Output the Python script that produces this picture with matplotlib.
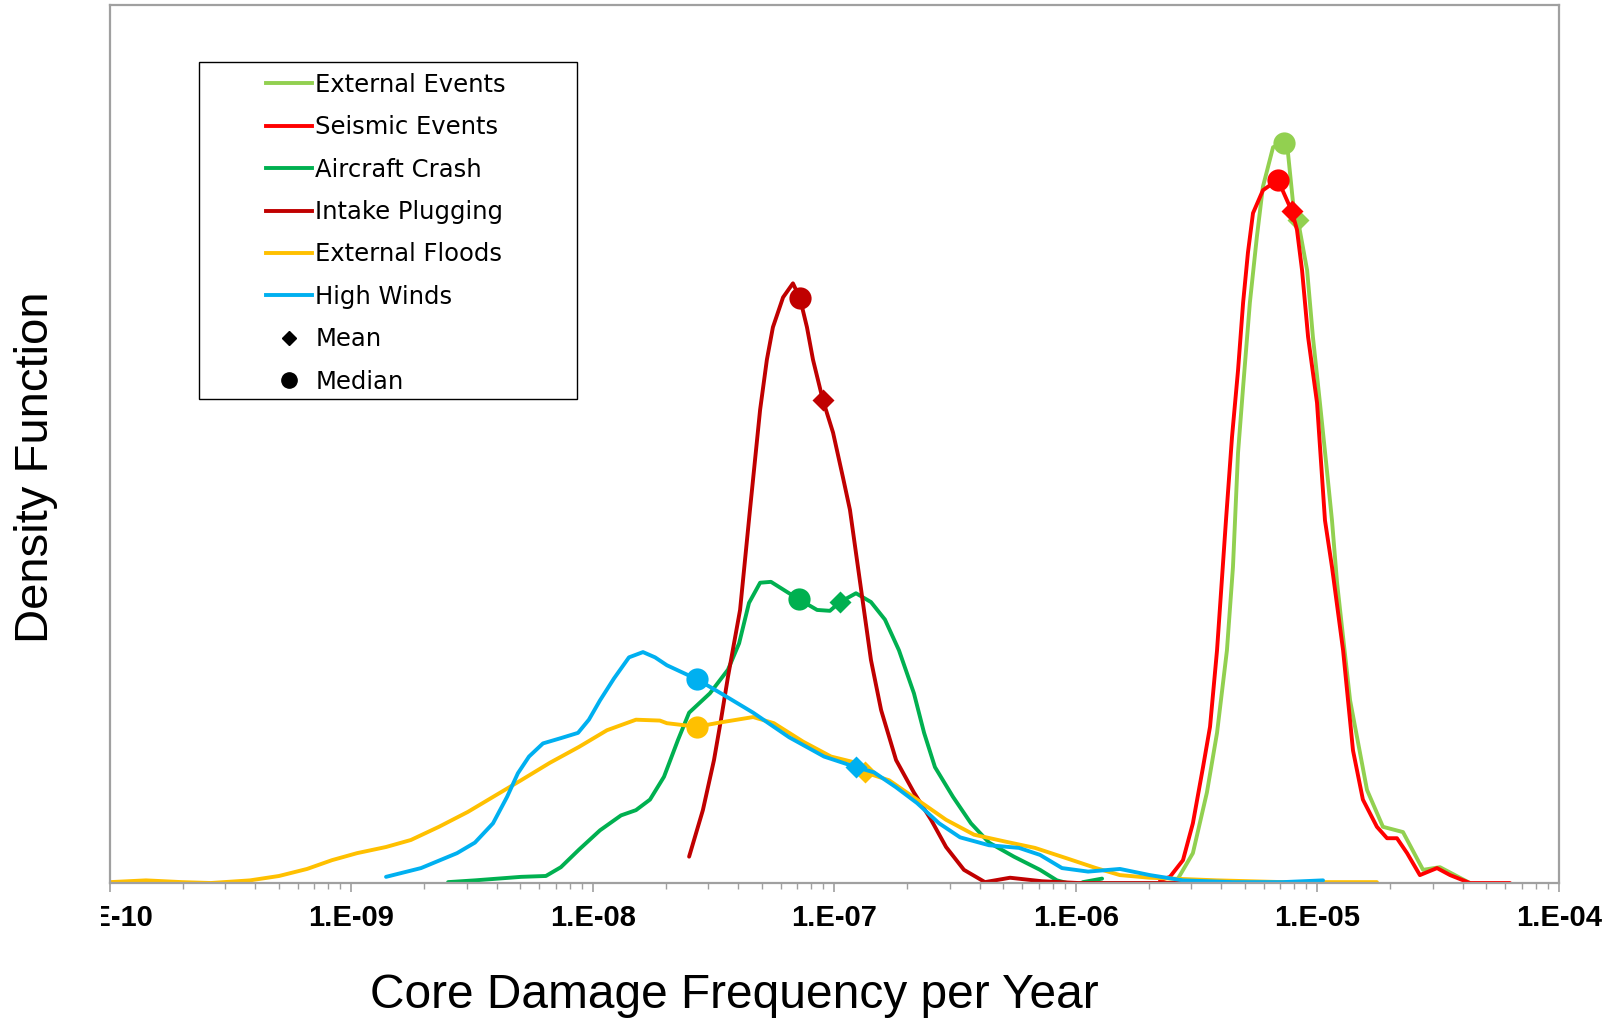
import numpy as np
import matplotlib
matplotlib.use('Agg')
import matplotlib.pyplot as plt
from matplotlib.lines import Line2D
from matplotlib.patches import Rectangle
from matplotlib.ticker import LogLocator, NullFormatter
from matplotlib.transforms import Bbox, TransformedBbox

# x values are log10(core damage frequency per year), y is relative density

ext_events_lx = [-5.582, -5.516, -5.458, -5.416, -5.375, -5.350, -5.329, -5.308, -5.280, -5.251,
                 -5.226, -5.184, -5.139, -5.122, -5.101, -5.081, -5.043, -5.019, -4.990, -4.961,
                 -4.940, -4.919, -4.865, -4.795, -4.729, -4.646, -4.563, -4.493, -4.369]
ext_events_y = [0.003, 0.034, 0.103, 0.171, 0.265, 0.360, 0.490, 0.565, 0.661, 0.736,
                0.793, 0.838, 0.843, 0.831, 0.774, 0.755, 0.698, 0.622, 0.547, 0.470,
                0.413, 0.342, 0.208, 0.106, 0.064, 0.058, 0.015, 0.018, 0.0]

seismic_lx = [-5.652, -5.611, -5.557, -5.516, -5.474, -5.445, -5.416, -5.379, -5.354, -5.329,
              -5.308, -5.288, -5.267, -5.226, -5.164, -5.106, -5.085, -5.064, -5.039, -5.002,
              -4.969, -4.940, -4.894, -4.853, -4.812, -4.754, -4.712, -4.671, -4.629, -4.576,
              -4.505, -4.451, -4.369, -4.203]
seismic_y = [0.003, 0.007, 0.026, 0.068, 0.132, 0.178, 0.265, 0.413, 0.508, 0.584,
             0.661, 0.718, 0.763, 0.789, 0.801, 0.765, 0.744, 0.698, 0.622, 0.547,
             0.413, 0.360, 0.265, 0.151, 0.095, 0.064, 0.051, 0.051, 0.034, 0.009,
             0.017, 0.009, 0.0, 0.0]

aircraft_lx = [-8.600, -8.489, -8.298, -8.195, -8.133, -8.058, -7.971, -7.884, -7.822, -7.764,
               -7.706, -7.648, -7.602, -7.516, -7.441, -7.395, -7.354, -7.308, -7.263, -7.188,
               -7.147, -7.072, -7.019, -6.977, -6.911, -6.849, -6.791, -6.733, -6.671, -6.629,
               -6.584, -6.509, -6.435, -6.360, -6.257, -6.149, -6.079, -6.037, -6.004, -5.971,
               -5.892]
aircraft_y = [0.001, 0.003, 0.007, 0.008, 0.018, 0.038, 0.060, 0.077, 0.083, 0.095,
              0.121, 0.163, 0.194, 0.216, 0.243, 0.273, 0.319, 0.342, 0.343, 0.330,
              0.323, 0.311, 0.310, 0.320, 0.330, 0.320, 0.300, 0.265, 0.216, 0.171,
              0.132, 0.098, 0.068, 0.046, 0.030, 0.015, 0.003, 0.0, -0.004, 0.001,
              0.005]

intake_lx = [-7.602, -7.545, -7.499, -7.470, -7.441, -7.391, -7.350, -7.329, -7.308, -7.280,
             -7.255, -7.213, -7.172, -7.143, -7.114, -7.089, -7.048, -7.006, -6.965, -6.936,
             -6.907, -6.878, -6.849, -6.807, -6.745, -6.671, -6.600, -6.538, -6.464, -6.377,
             -6.273, -6.141, -5.992, -5.487]
intake_y = [0.030, 0.083, 0.140, 0.186, 0.235, 0.311, 0.425, 0.482, 0.539, 0.596,
            0.633, 0.667, 0.683, 0.666, 0.633, 0.596, 0.550, 0.513, 0.462, 0.425,
            0.368, 0.311, 0.254, 0.197, 0.140, 0.103, 0.072, 0.041, 0.015, 0.001,
            0.006, 0.002, 0.0, 0.0]

floods_lx = [-10.0, -9.851, -9.702, -9.582, -9.420, -9.300, -9.184, -9.081, -8.977, -8.857,
             -8.754, -8.638, -8.518, -8.402, -8.298, -8.178, -8.058, -7.942, -7.822, -7.723,
             -7.694, -7.569, -7.470, -7.337, -7.251, -7.130, -7.014, -6.911, -6.874, -6.774,
             -6.658, -6.538, -6.422, -6.290, -6.170, -6.037, -5.917, -5.818, -5.694, -5.416,
             -5.143, -4.754]
floods_y = [0.001, 0.003, 0.001, 0.0, 0.003, 0.008, 0.016, 0.026, 0.034, 0.041,
            0.049, 0.064, 0.081, 0.100, 0.117, 0.137, 0.155, 0.174, 0.186, 0.185,
            0.182, 0.178, 0.183, 0.189, 0.182, 0.161, 0.144, 0.137, 0.126, 0.117,
            0.095, 0.072, 0.055, 0.047, 0.040, 0.028, 0.017, 0.009, 0.006, 0.003,
            0.001, 0.001]

winds_lx = [-8.857, -8.712, -8.563, -8.489, -8.414, -8.356, -8.311, -8.265, -8.207, -8.133,
            -8.062, -8.017, -7.971, -7.913, -7.851, -7.793, -7.743, -7.694, -7.569, -7.470,
            -7.337, -7.188, -7.043, -6.911, -6.836, -6.745, -6.658, -6.567, -6.480, -6.360,
            -6.236, -6.149, -6.058, -5.950, -5.818, -5.694, -5.557, -5.350, -5.143, -4.977]
winds_y = [0.007, 0.017, 0.034, 0.046, 0.068, 0.098, 0.125, 0.144, 0.159, 0.165,
           0.171, 0.186, 0.208, 0.233, 0.257, 0.263, 0.257, 0.248, 0.232, 0.216,
           0.194, 0.166, 0.144, 0.132, 0.126, 0.109, 0.091, 0.068, 0.052, 0.043,
           0.040, 0.032, 0.017, 0.013, 0.016, 0.009, 0.003, 0.001, 0.001, 0.003]

names = ['External Events', 'Seismic Events', 'Aircraft Crash', 'Intake Plugging',
         'External Floods', 'High Winds']
colors = ['#92D050', '#FF0000', '#00B050', '#C00000', '#FFC000', '#00B0F0']

# (log10 x, density) of the median and mean markers
median_lx = [-5.139, -5.164, -7.147, -7.143, -7.569, -7.569]
median_y = [0.843, 0.801, 0.323, 0.666, 0.178, 0.232]
mean_lx = [-5.081, -5.106, -6.977, -7.048, -6.874, -6.911]
mean_y = [0.755, 0.765, 0.320, 0.550, 0.126, 0.132]

tick_exps = [-10, -9, -8, -7, -6, -5, -4]
tick_labels = ['1.E-10', '1.E-09', '1.E-08', '1.E-07', '1.E-06', '1.E-05', '1.E-04']

series = [(ext_events_lx, ext_events_y), (seismic_lx, seismic_y), (aircraft_lx, aircraft_y),
          (intake_lx, intake_y), (floods_lx, floods_y), (winds_lx, winds_y)]

fig = plt.figure(figsize=(16.14, 10.21), dpi=100)
ax = fig.add_axes([0.06815, 0.13516, 0.89777, 0.85994])

for i, (lx, y) in enumerate(series):
    ax.plot(10.0 ** np.array(lx), y, color=colors[i], lw=2.8, solid_capstyle='round',
            solid_joinstyle='round')
    ax.plot(10.0 ** median_lx[i], median_y[i], 'o', color=colors[i], ms=16, mec='none')
    ax.plot(10.0 ** mean_lx[i], mean_y[i], 'D', color=colors[i], ms=11, mec='none')

ax.set_xscale('log')
ax.set_xlim(1e-10, 1e-4)
ax.set_ylim(0, 1)
ax.set_yticks([])
ax.set_xticks([10.0 ** e for e in tick_exps], tick_labels)
ax.xaxis.set_minor_locator(LogLocator(base=10, subs=range(2, 10)))
ax.xaxis.set_minor_formatter(NullFormatter())
ax.tick_params(axis='x', which='major', length=6.5, width=1.2, color='#A0A0A0', pad=8.5,
               direction='out')
ax.tick_params(axis='x', which='minor', length=4.3, width=1.0, color='#A0A0A0', direction='out')
for lab in ax.get_xticklabels():
    lab.set_fontfamily('Liberation Sans')
    lab.set_fontweight('bold')
    lab.set_fontsize(21)
for sp in ax.spines.values():
    sp.set_color('#A0A0A0')
    sp.set_linewidth(1.6)

# leftmost tick label is cut off in the original
first = ax.get_xticklabels()[0]
first.set_clip_box(TransformedBbox(Bbox([[101 / 1614, 0], [1, 1]]), fig.transFigure))
first.set_clip_on(True)

ax.set_xlabel('Core Damage Frequency per Year', fontsize=34.5, family='Liberation Sans', va='center')
ax.xaxis.set_label_coords(0.4306, -0.128)
ax.set_ylabel('Density Function', fontsize=34, family='Liberation Sans', va='center')
ax.yaxis.set_label_coords(-0.0511, 0.4738)

handles = [Line2D([], [], color=c, lw=2.8) for c in colors]
handles.append(Line2D([], [], color='black', marker='D', ls='none', ms=7.5))
handles.append(Line2D([], [], color='black', marker='o', ls='none', ms=11))
ax.legend(handles, names + ['Mean', 'Median'], loc='upper left',
          bbox_to_anchor=(0.1077, 0.923), borderaxespad=0, borderpad=0, frameon=False,
          prop={'family': 'DejaVu Sans', 'size': 17.5}, handlelength=1.9,
          handletextpad=0.12, labelspacing=0.76, numpoints=1)
ax.add_patch(Rectangle((0.0614, 0.5513), 0.2609, 0.3838, transform=ax.transAxes,
                       fill=False, ec='black', lw=1.0, clip_on=False))

fig.savefig('out.png', dpi=100)
